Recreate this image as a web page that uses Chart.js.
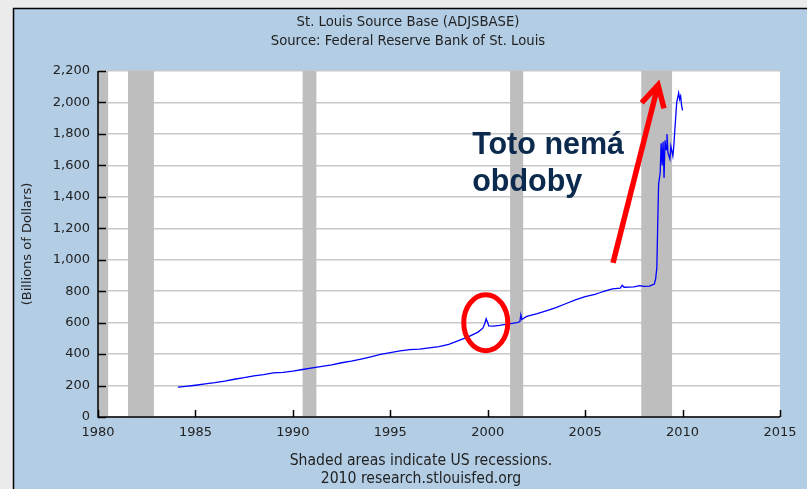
<!DOCTYPE html>
<html>
<head>
<meta charset="utf-8">
<script src="https://cdn.jsdelivr.net/npm/chart.js@4.4.0/dist/chart.umd.min.js"></script>
<style>
  html, body { margin: 0; padding: 0; background: #ebebeb; }
</style>
</head>
<body>
<canvas id="chartBase" width="807" height="489"></canvas>
<script>
// St. Louis Source Base (ADJSBASE), billions of dollars
const years = [
  1984.1, 1984.5, 1985.0, 1985.5, 1986.0, 1986.5, 1987.0, 1987.5, 1988.0, 1988.5,
  1989.0, 1989.5, 1990.0, 1990.5, 1991.0, 1991.5, 1992.0, 1992.5, 1993.0, 1993.5,
  1994.0, 1994.5, 1995.0, 1995.5, 1996.0, 1996.5, 1997.0, 1997.5, 1998.0, 1998.5,
  1999.0, 1999.5, 1999.75, 1999.85, 1999.92, 2000.0, 2000.05, 2000.3, 2000.6, 2001.0,
  2001.5, 2001.65, 2001.7, 2001.75, 2002.0, 2002.5, 2003.0, 2003.5, 2004.0, 2004.5,
  2005.0, 2005.5, 2005.75, 2006.0, 2006.4, 2006.8, 2006.9, 2007.0, 2007.5, 2007.8,
  2008.0, 2008.3, 2008.55, 2008.62, 2008.68, 2008.72, 2008.77, 2008.85, 2008.9, 2008.95,
  2009.0, 2009.05, 2009.1, 2009.15, 2009.2, 2009.25, 2009.35, 2009.4, 2009.5, 2009.55,
  2009.6, 2009.7, 2009.8, 2009.85, 2009.9, 2009.95, 2010.0
];
const baseValues = [
  190, 195, 202, 210, 218, 228, 240, 250, 262, 270,
  280, 284, 292, 302, 312, 322, 332, 345, 355, 368,
  382, 398, 410, 420, 428, 432, 440, 448, 462, 485,
  510, 540, 565, 595, 625, 600, 580, 578, 582, 590,
  600, 605, 650, 620, 640, 655, 675, 695, 720, 745,
  765, 780, 790, 800, 815, 820, 838, 825, 828, 835,
  830, 832, 845, 880, 950, 1200, 1480, 1550, 1740, 1600,
  1750, 1520, 1760, 1700, 1800, 1680, 1640, 1720, 1660, 1720,
  1820, 2000, 2060, 2020, 2040, 1980, 1950
];

// US recessions (decimal years)
const recessionStart = [1980.0, 1981.54, 1990.5, 2001.15, 2007.88];
const recessionEnd   = [1980.52, 1982.87, 1991.21, 2001.82, 2009.46];

// annotations, in data units (year, billions)
const circleCenter = [1999.9, 600];
const circleRadius = [1.13, 178];
const arrowFrom = [2006.43, 980];
const arrowTo = [2008.74, 2110];
const noteLines = ['Toto nemá', 'obdoby'];
const noteAnchor = [1999.2, 1672];
const noteLineGap = 235;

const titleLines = ['St. Louis Source Base (ADJSBASE)', 'Source: Federal Reserve Bank of St. Louis'];
const footerLines = ['Shaded areas indicate US recessions.', '2010 research.stlouisfed.org'];

const TICK_FONT = { family: "'DejaVu Sans', sans-serif", size: 13 };

const framePlugin = {
  id: 'frame',
  beforeDraw(chart) {
    const { ctx, width, height, chartArea: a } = chart;
    ctx.save();
    ctx.fillStyle = '#ebebeb';
    ctx.fillRect(0, 0, width, height);
    ctx.fillStyle = '#b3cde5';
    ctx.fillRect(14, 9, width - 14, height - 9);
    ctx.strokeStyle = '#000';
    ctx.lineWidth = 1.5;
    ctx.beginPath();
    ctx.moveTo(13.5, height);
    ctx.lineTo(13.5, 8.5);
    ctx.lineTo(width, 8.5);
    ctx.stroke();
    ctx.fillStyle = '#fff';
    ctx.fillRect(a.left, a.top, a.right - a.left, a.bottom - a.top);

    ctx.fillStyle = '#222';
    ctx.textAlign = 'center';
    ctx.textBaseline = 'middle';
    ctx.font = "14.7px 'DejaVu Sans Condensed', 'DejaVu Sans', sans-serif";
    ctx.fillText(titleLines[0], 408, 22);
    ctx.fillText(titleLines[1], 408, 41);
    ctx.font = "15.6px 'DejaVu Sans Condensed', 'DejaVu Sans', sans-serif";
    ctx.fillText(footerLines[0], 421, 461);
    ctx.fillText(footerLines[1], 421, 479);
    ctx.restore();
  }
};

const recessionPlugin = {
  id: 'recessions',
  beforeDatasetsDraw(chart) {
    const { ctx, chartArea: a, scales: { x } } = chart;
    ctx.save();
    ctx.fillStyle = '#bebebe';
    recessionStart.forEach(function (s, i) {
      const x0 = x.getPixelForValue(s);
      const x1 = x.getPixelForValue(recessionEnd[i]);
      ctx.fillRect(x0, a.top, x1 - x0, a.bottom - a.top);
    });
    ctx.restore();
  }
};

// axis lines with the short tick marks drawn inside the plot
const axisPlugin = {
  id: 'axisMarks',
  afterDatasetsDraw(chart) {
    const { ctx, chartArea: a, scales: { x, y } } = chart;
    ctx.save();
    ctx.strokeStyle = '#000';
    ctx.lineWidth = 1.5;
    ctx.beginPath();
    ctx.moveTo(a.left, a.top);
    ctx.lineTo(a.left, a.bottom);
    ctx.lineTo(a.right, a.bottom);
    y.ticks.forEach(function (t) {
      const py = Math.round(y.getPixelForValue(t.value)) + 0.5;
      ctx.moveTo(a.left, py);
      ctx.lineTo(a.left + 8, py);
    });
    x.ticks.forEach(function (t) {
      const px = Math.round(x.getPixelForValue(t.value)) + 0.5;
      ctx.moveTo(px, a.bottom);
      ctx.lineTo(px, a.bottom - 7);
    });
    ctx.stroke();
    ctx.restore();
  }
};

const notePlugin = {
  id: 'notes',
  afterDatasetsDraw(chart) {
    const { ctx, scales: { x, y } } = chart;
    ctx.save();
    // red ellipse around the Y2K spike
    const cx = x.getPixelForValue(circleCenter[0]);
    const cy = y.getPixelForValue(circleCenter[1]);
    const rx = x.getPixelForValue(circleCenter[0] + circleRadius[0]) - cx;
    const ry = cy - y.getPixelForValue(circleCenter[1] + circleRadius[1]);
    ctx.strokeStyle = '#ff0000';
    ctx.lineWidth = 5;
    ctx.beginPath();
    ctx.ellipse(cx, cy, rx, ry, 0, 0, Math.PI * 2);
    ctx.stroke();

    // red arrow
    const ax0 = x.getPixelForValue(arrowFrom[0]), ay0 = y.getPixelForValue(arrowFrom[1]);
    const ax1 = x.getPixelForValue(arrowTo[0]), ay1 = y.getPixelForValue(arrowTo[1]);
    const ang = Math.atan2(ay0 - ay1, ax0 - ax1);
    const head = 24, spread = 0.5;
    ctx.lineWidth = 5.5;
    ctx.lineJoin = 'miter';
    ctx.beginPath();
    ctx.moveTo(ax0, ay0);
    ctx.lineTo(ax1, ay1);
    ctx.stroke();
    ctx.beginPath();
    ctx.moveTo(ax1 + head * Math.cos(ang + spread), ay1 + head * Math.sin(ang + spread));
    ctx.lineTo(ax1, ay1);
    ctx.lineTo(ax1 + head * Math.cos(ang - spread), ay1 + head * Math.sin(ang - spread));
    ctx.stroke();

    // note text
    ctx.fillStyle = '#0b2a4d';
    ctx.font = "bold 30.5px 'Liberation Sans', Arial, sans-serif";
    ctx.textAlign = 'left';
    ctx.textBaseline = 'alphabetic';
    const tx = x.getPixelForValue(noteAnchor[0]);
    noteLines.forEach(function (line, i) {
      ctx.fillText(line, tx, y.getPixelForValue(noteAnchor[1] - i * noteLineGap));
    });
    ctx.restore();
  }
};

new Chart(document.getElementById('chartBase').getContext('2d'), {
  type: 'line',
  data: {
    datasets: [{
      label: 'ADJSBASE',
      data: years.map(function (yr, i) { return { x: yr, y: baseValues[i] }; }),
      borderColor: '#0000ff',
      borderWidth: 1.3,
      pointRadius: 0,
      tension: 0,
      fill: false
    }]
  },
  options: {
    responsive: false,
    animation: false,
    devicePixelRatio: 1,
    layout: { padding: { left: 14, top: 71, right: 27, bottom: 0 } },
    plugins: {
      legend: { display: false },
      tooltip: { enabled: false }
    },
    scales: {
      x: {
        type: 'linear',
        min: 1980,
        max: 2015,
        grid: { display: false, drawTicks: false },
        border: { display: false },
        ticks: {
          stepSize: 5,
          padding: 8,
          color: '#222',
          font: TICK_FONT,
          callback: function (v) { return String(v); }
        },
        afterFit: function (s) { s.height = 72; }
      },
      y: {
        min: 0,
        max: 2200,
        grid: { color: '#c8c8c8', lineWidth: 1.5, drawTicks: false },
        border: { display: false },
        ticks: {
          stepSize: 200,
          padding: 8,
          color: '#222',
          font: TICK_FONT
        },
        title: {
          display: true,
          text: '(Billions of Dollars)',
          color: '#222',
          font: TICK_FONT,
          padding: { top: 6, bottom: 0 }
        },
        afterFit: function (s) { s.width = 84; }
      }
    }
  },
  plugins: [framePlugin, recessionPlugin, axisPlugin, notePlugin]
});
</script>
</body>
</html>
